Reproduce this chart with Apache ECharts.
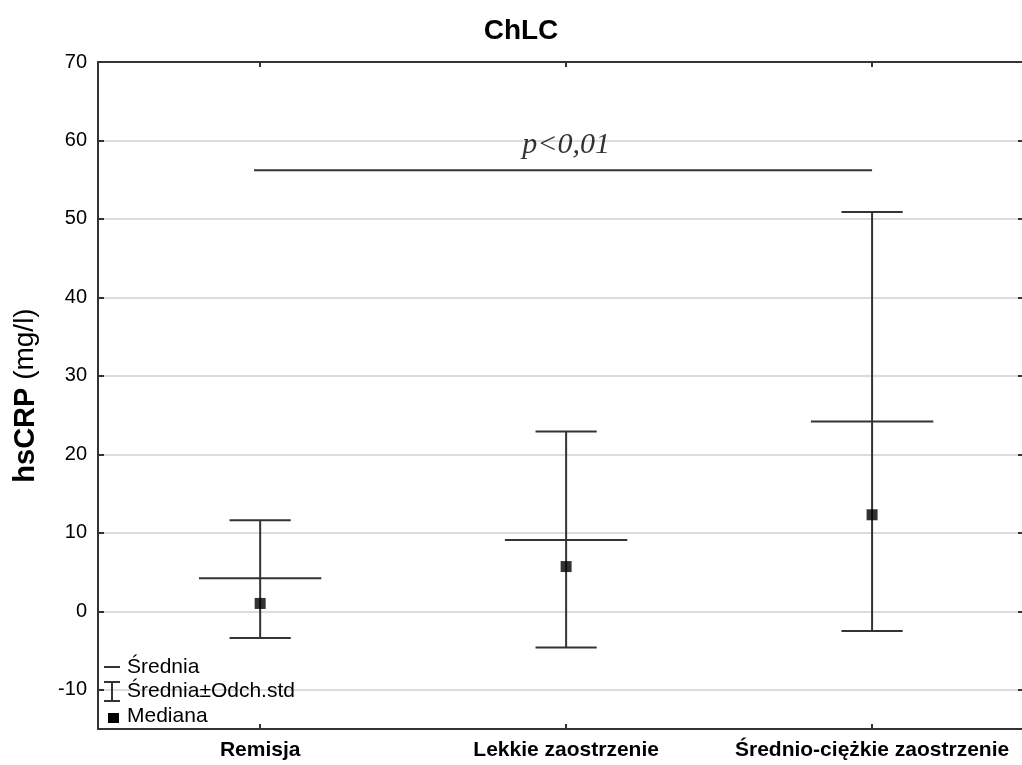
<!DOCTYPE html>
<html>
<head>
<meta charset="utf-8">
<script src="https://cdn.jsdelivr.net/npm/echarts@6/dist/echarts.min.js"></script>
<style>html,body{margin:0;padding:0;background:#fff}#c{width:1022px;height:765px}</style>
</head>
<body>
<div id="c"></div>
<script>
const categories = ['Remisja', 'Lekkie zaostrzenie', 'Średnio-ciężkie zaostrzenie'];
const means = [4.2, 9.1, 24.2];
const sdLow = [-3.4, -4.6, -2.5];
const sdHigh = [11.6, 22.9, 50.9];
const medians = [1.0, 5.7, 12.3];
const yTicks = [-10, 0, 10, 20, 30, 40, 50, 60, 70];
const catPositions = [1, 2, 3];
const pLineFrom = 0.98, pLineTo = 3, pLineY = 56.2;
const pText = 'p<0,01', pTextX = 2, pTextY = 59.4;

const FONT = '"Liberation Sans", Arial, sans-serif';
const LINE = '#333';

const meanData = catPositions.map((x, i) => [x, means[i]]);
const sdData = catPositions.map((x, i) => [x, sdLow[i], sdHigh[i]]);
const medData = catPositions.map((x, i) => [x, medians[i]]);

const chart = echarts.init(document.getElementById('c'), null, {renderer: 'canvas'});
chart.setOption({
  backgroundColor: '#fff',
  animation: false,
  title: {
    text: 'ChLC', left: 516, top: 12, textAlign: 'center',
    textStyle: {fontFamily: FONT, fontSize: 28, fontWeight: 'bold', color: '#000'}
  },
  grid: {left: 98, right: 0, top: 62, bottom: 36},
  xAxis: [{
    type: 'value', min: 0.47, max: 3.49, position: 'bottom',
    axisLine: {show: true, onZero: false, lineStyle: {color: LINE, width: 2}},
    axisTick: {show: true, inside: true, length: 5, customValues: catPositions, lineStyle: {color: LINE, width: 2}},
    axisLabel: {show: true, customValues: catPositions, margin: 11,
      formatter: v => categories[Math.round(v) - 1],
      fontFamily: FONT, fontSize: 21, fontWeight: 'bold', color: '#000'},
    splitLine: {show: false}
  }, {
    type: 'value', min: 0.47, max: 3.49, position: 'top',
    axisLine: {show: true, onZero: false, lineStyle: {color: LINE, width: 2}},
    axisTick: {show: true, inside: true, length: 5, customValues: catPositions, lineStyle: {color: LINE, width: 2}},
    axisLabel: {show: false},
    splitLine: {show: false}
  }],
  yAxis: [{
    type: 'value', min: -15, max: 70, position: 'left',
    name: '{b|hsCRP} (mg/l)', nameLocation: 'middle', nameRotate: 90, nameGap: 58,
    nameTextStyle: {fontFamily: FONT, fontSize: 28, color: '#000',
      rich: {b: {fontFamily: FONT, fontSize: 29, fontWeight: 'bold', color: '#000'}}},
    axisLine: {show: true, onZero: false, lineStyle: {color: LINE, width: 2}},
    axisTick: {show: true, inside: true, length: 6, customValues: yTicks, lineStyle: {color: LINE, width: 2}},
    axisLabel: {show: true, customValues: yTicks, margin: 11,
      fontFamily: FONT, fontSize: 20, color: '#000'},
    splitLine: {show: true, lineStyle: {color: '#dcdcdc', width: 2}}
  }, {
    type: 'value', min: -15, max: 70, position: 'right',
    axisLine: {show: false},
    axisTick: {show: true, inside: true, length: 4, customValues: yTicks, lineStyle: {color: LINE, width: 2}},
    axisLabel: {show: false},
    splitLine: {show: false}
  }],
  series: [{
    name: 'Średnia±Odch.std', type: 'custom', xAxisIndex: 0, yAxisIndex: 0,
    data: sdData, z: 3,
    renderItem: (params, api) => {
      const x = api.value(0), lo = api.value(1), hi = api.value(2);
      const pLo = api.coord([x, lo]), pHi = api.coord([x, hi]);
      const capL = api.coord([x - 0.1, lo])[0], capR = api.coord([x + 0.1, lo])[0];
      const st = {stroke: LINE, lineWidth: 2};
      return {type: 'group', children: [
        {type: 'line', shape: {x1: pLo[0], y1: pLo[1], x2: pHi[0], y2: pHi[1]}, style: st},
        {type: 'line', shape: {x1: capL, y1: pLo[1], x2: capR, y2: pLo[1]}, style: st},
        {type: 'line', shape: {x1: capL, y1: pHi[1], x2: capR, y2: pHi[1]}, style: st}
      ]};
    }
  }, {
    name: 'Średnia', type: 'custom', xAxisIndex: 0, yAxisIndex: 0,
    data: meanData, z: 3,
    renderItem: (params, api) => {
      const x = api.value(0), m = api.value(1);
      const a = api.coord([x - 0.2, m]), b = api.coord([x + 0.2, m]);
      return {type: 'line', shape: {x1: a[0], y1: a[1], x2: b[0], y2: b[1]}, style: {stroke: LINE, lineWidth: 2}};
    }
  }, {
    name: 'Mediana', type: 'scatter', xAxisIndex: 0, yAxisIndex: 0,
    data: medData, symbol: 'rect', symbolSize: 11, z: 4,
    itemStyle: {color: '#000'}
  }, {
    name: 'p-line', type: 'line', xAxisIndex: 0, yAxisIndex: 0,
    data: [[pLineFrom, pLineY], [pLineTo, pLineY]], symbol: 'none',
    lineStyle: {color: LINE, width: 2}
  }, {
    name: 'p-text', type: 'scatter', xAxisIndex: 0, yAxisIndex: 0,
    data: [[pTextX, pTextY]], symbolSize: 0,
    label: {show: true, position: 'inside', formatter: pText,
      fontFamily: '"Liberation Serif", "DejaVu Serif", serif', fontStyle: 'italic',
      fontSize: 30, color: '#000'}
  }],
  graphic: [
    {type: 'line', z: 100, shape: {x1: 104, y1: 667, x2: 120, y2: 667}, style: {stroke: LINE, lineWidth: 2}},
    {type: 'line', z: 100, shape: {x1: 112, y1: 682, x2: 112, y2: 701}, style: {stroke: LINE, lineWidth: 2}},
    {type: 'line', z: 100, shape: {x1: 104, y1: 682, x2: 120, y2: 682}, style: {stroke: LINE, lineWidth: 2}},
    {type: 'line', z: 100, shape: {x1: 104, y1: 701, x2: 120, y2: 701}, style: {stroke: LINE, lineWidth: 2}},
    {type: 'rect', z: 100, shape: {x: 108, y: 713, width: 11, height: 10}, style: {fill: '#000'}},
    {type: 'text', z: 100, x: 127, y: 667, style: {text: 'Średnia', font: '21px ' + FONT, fill: '#000', textVerticalAlign: 'middle'}},
    {type: 'text', z: 100, x: 127, y: 691, style: {text: 'Średnia±Odch.std', font: '21px ' + FONT, fill: '#000', textVerticalAlign: 'middle'}},
    {type: 'text', z: 100, x: 127, y: 716, style: {text: 'Mediana', font: '21px ' + FONT, fill: '#000', textVerticalAlign: 'middle'}}
  ]
});
</script>
</body>
</html>
